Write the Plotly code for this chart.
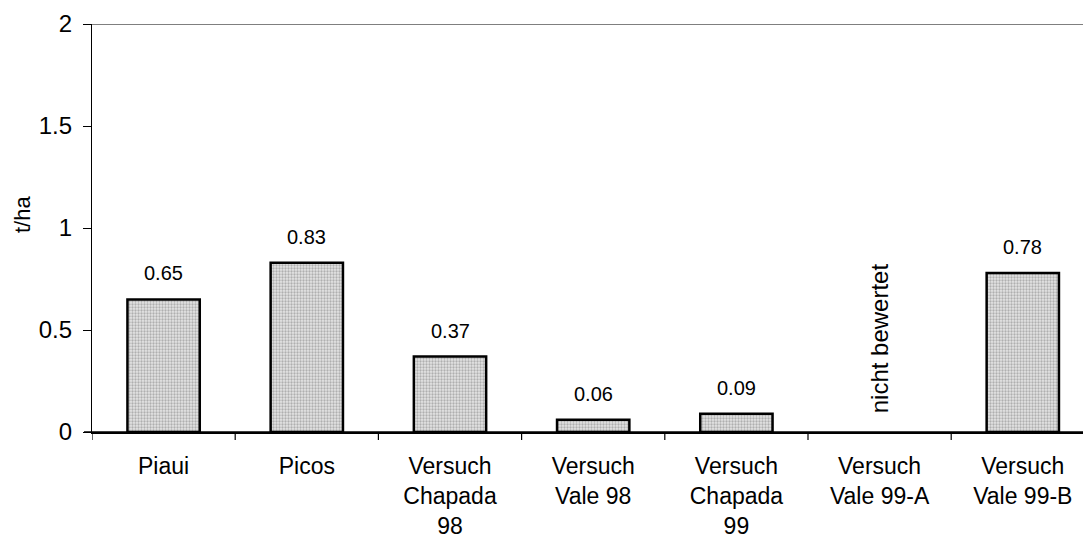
import plotly.graph_objects as go

# Yield per site / trial (t/ha); Vale 99-A was not assessed
categories = ["Piaui", "Picos", "Versuch<br>Chapada<br>98", "Versuch<br>Vale 98",
              "Versuch<br>Chapada<br>99", "Versuch<br>Vale 99-A", "Versuch<br>Vale 99-B"]
yields = [0.65, 0.83, 0.37, 0.06, 0.09, None, 0.78]
y_ticks = [0, 0.5, 1, 1.5, 2]

FONT = "Liberation Sans, Arial, sans-serif"
W, H = 1083, 544
L, T, B = 92, 24, 112
PH = H - T - B
CAT_W = 143.2  # pixel width of one category slot
x_end = -0.5 + (W - L) / CAT_W

fig = go.Figure()
fig.add_trace(go.Bar(
    x=list(range(len(categories))),
    y=yields,
    width=0.505,
    marker=dict(
        color="#c4c4c4",
        line=dict(color="black", width=2.5),
        pattern=dict(shape=".", fgcolor="#7a7a7a", bgcolor="#e4e4e4",
                     size=3, solidity=0.45),
    ),
    hoverinfo="skip",
))

annotations = []
for i, v in enumerate(yields):
    if v is None:
        continue
    annotations.append(dict(
        x=i, y=v, xref="x", yref="y", text=f"{v:.2f}", showarrow=False,
        yanchor="middle", yshift=26, font=dict(family=FONT, size=20, color="black"),
    ))

# Vale 99-A: no value, vertical note instead of a bar
annotations.append(dict(
    x=5, y=0.08, xref="x", yref="y", text="nicht bewertet", showarrow=False,
    textangle=-90, yanchor="bottom", xanchor="center",
    font=dict(family=FONT, size=24, color="black"),
))

# y-axis title
annotations.append(dict(
    x=(22 - L) / (W - L), y=(432 - 215) / PH, xref="paper", yref="paper",
    xanchor="center", yanchor="middle",
    text="t/ha", showarrow=False, textangle=-90,
    font=dict(family=FONT, size=22, color="black"),
))

fig.update_layout(
    width=W, height=H,
    margin=dict(l=L, r=0, t=T, b=B, pad=0),
    paper_bgcolor="white", plot_bgcolor="white",
    showlegend=False,
    annotations=annotations,
    font=dict(family=FONT, color="black"),
    xaxis=dict(
        range=[-0.5, x_end],
        tickmode="array", tickvals=list(range(len(categories))), ticktext=categories,
        ticks="", showgrid=False, showline=True, linecolor="black", linewidth=1.5,
        zeroline=False, tickfont=dict(family=FONT, size=23, color="black"),
        ticklabelstandoff=13,
    ),
    yaxis=dict(
        range=[0, 2], tickmode="array", tickvals=y_ticks,
        ticktext=[f"{t:g}" for t in y_ticks],
        ticks="outside", ticklen=8, tickcolor="black", tickwidth=1.2,
        showline=True, linecolor="black", linewidth=1.2,
        showgrid=False, zeroline=False,
        tickfont=dict(family=FONT, size=24, color="black"),
        ticklabelstandoff=6,
    ),
)

# category boundary ticks below the x axis
for k in range(0, len(categories)):
    fig.add_shape(type="line", xref="x", yref="paper",
                  x0=k - 0.5, x1=k - 0.5, y0=0, y1=-8 / PH,
                  line=dict(color="black", width=1.2))

# top border line at y = 2 and base line at y = 0, extending over the tick area
for yv, lw in ((2, 1.2), (0, 1.5)):
    fig.add_shape(type="line", xref="paper", yref="y",
                  x0=-8 / (W - L), x1=1, y0=yv, y1=yv,
                  line=dict(color="black", width=lw))

fig.write_html("out.html")
